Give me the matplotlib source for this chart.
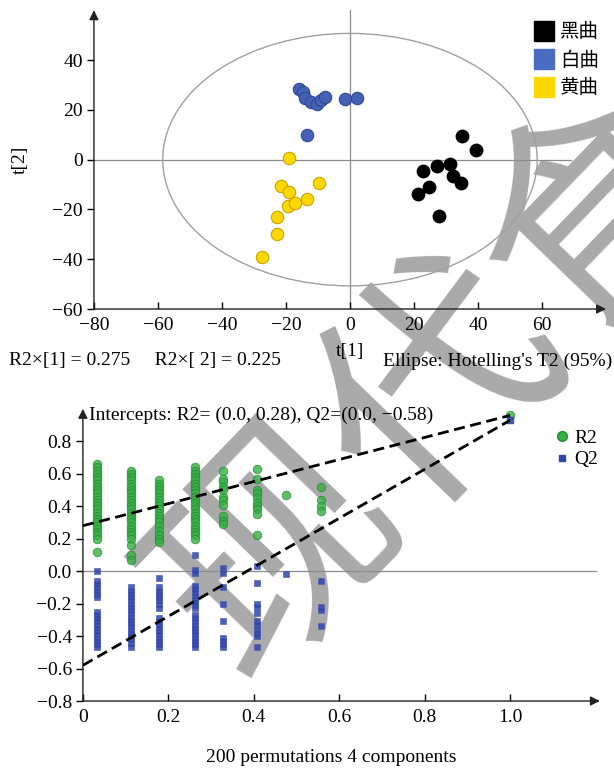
import matplotlib
matplotlib.use("Agg")
import matplotlib.pyplot as plt
from matplotlib.patches import Ellipse
from matplotlib.lines import Line2D

plt.rcParams['font.family'] = ['Liberation Serif', 'Noto Sans CJK SC', 'DejaVu Sans']
plt.rcParams['font.size'] = 14

# score plot data
groups = ["黑曲", "白曲", "黄曲"]
black_t1 = [34.9, 39.3, 27.1, 31.3, 22.7, 32.3, 34.6, 24.8, 21.4, 27.9]
black_t2 = [9.6, 3.9, -2.4, -1.6, -4.5, -6.4, -9.5, -10.9, -13.9, -22.5]
white_t1 = [-15.9, -14.8, -14.1, -12.3, -10.4, -9.2, -7.8, -1.6, 2.1, -13.3]
white_t2 = [28.5, 27.2, 24.8, 23.2, 22.3, 23.9, 25.2, 24.5, 24.9, 9.9]
yellow_t1 = [-19.2, -21.5, -19.2, -19.4, -17.1, -13.3, -22.9, -22.9, -27.6, -9.6]
yellow_t2 = [0.7, -10.4, -13.2, -18.7, -17.6, -15.7, -23.1, -29.7, -39.3, -9.5]
ellipse_t1, ellipse_t2 = 58.5, 50.7

# permutation data (one list per correlation column)
perm_x = [0.033, 0.112, 0.179, 0.262, 0.329, 0.408, 0.476, 0.558]
r2_cols = [
    [0.66, 0.64, 0.62, 0.60, 0.58, 0.56, 0.54, 0.52, 0.50, 0.48, 0.46, 0.44, 0.42,
     0.40, 0.38, 0.36, 0.34, 0.32, 0.30, 0.28, 0.26, 0.24, 0.22, 0.20, 0.12],
    [0.62, 0.60, 0.58, 0.56, 0.54, 0.52, 0.50, 0.48, 0.46, 0.44, 0.42, 0.40, 0.38,
     0.36, 0.34, 0.32, 0.30, 0.28, 0.26, 0.24, 0.22, 0.20, 0.16, 0.10, 0.07],
    [0.56, 0.54, 0.52, 0.50, 0.48, 0.46, 0.44, 0.42, 0.40, 0.38, 0.36, 0.34, 0.32,
     0.30, 0.28, 0.25, 0.22, 0.20, 0.18],
    [0.64, 0.62, 0.60, 0.58, 0.56, 0.54, 0.52, 0.50, 0.48, 0.46, 0.44, 0.42, 0.40,
     0.38, 0.36, 0.34, 0.32, 0.30, 0.28, 0.26, 0.24, 0.22, 0.20],
    [0.62, 0.57, 0.55, 0.52, 0.50, 0.46, 0.44, 0.41, 0.34, 0.31, 0.29],
    [0.63, 0.57, 0.50, 0.48, 0.45, 0.42, 0.40, 0.38, 0.35, 0.22],
    [0.47],
    [0.52, 0.44, 0.40, 0.37],
]
q2_cols = [
    [0.00, -0.06, -0.08, -0.10, -0.12, -0.14, -0.16, -0.25, -0.27, -0.29, -0.31,
     -0.33, -0.35, -0.37, -0.39, -0.41, -0.43, -0.45, -0.47],
    [-0.10, -0.12, -0.14, -0.16, -0.18, -0.20, -0.22, -0.24, -0.26, -0.28, -0.30,
     -0.32, -0.34, -0.36, -0.38, -0.40, -0.42, -0.44, -0.47],
    [-0.04, -0.10, -0.12, -0.14, -0.16, -0.18, -0.20, -0.23, -0.29, -0.31, -0.33,
     -0.35, -0.37, -0.39, -0.41, -0.43, -0.45, -0.47],
    [0.10, 0.01, -0.01, -0.09, -0.11, -0.13, -0.15, -0.17, -0.19, -0.21, -0.23,
     -0.27, -0.29, -0.31, -0.33, -0.35, -0.37, -0.39, -0.41, -0.43, -0.45, -0.47],
    [0.02, -0.01, -0.10, -0.20, -0.31, -0.41, -0.43, -0.45, -0.47],
    [0.03, -0.07, -0.20, -0.22, -0.26, -0.31, -0.33, -0.36, -0.38, -0.40, -0.47],
    [-0.02],
    [-0.06, -0.22, -0.24, -0.34],
]
orig_x = 1.0
orig_r2, orig_q2 = 0.96, 0.93
line_x = [0.0, 1.0]
r2_line = [0.28, 0.96]
q2_line = [-0.58, 0.93]

fig = plt.figure(figsize=(6.14, 7.70), dpi=100)

# watermark, drawn under both panels
fig.text(195 / 614, 1 - 638 / 770, "现代食品", rotation=46, rotation_mode="anchor",
         ha="left", va="center", fontsize=170, color="#a9a9a9",
         family=["Noto Sans CJK SC"], zorder=-1)


def arrow_axes(ax):
    ax.patch.set_alpha(0)
    for s in ax.spines.values():
        s.set_visible(False)
    ax.annotate("", xy=(1, 0), xytext=(0, 0), xycoords="axes fraction",
                arrowprops=dict(arrowstyle="-|>", lw=1.0, color="#222222",
                                mutation_scale=14, shrinkA=0, shrinkB=0))
    ax.annotate("", xy=(0, 1), xytext=(0, 0), xycoords="axes fraction",
                arrowprops=dict(arrowstyle="-|>", lw=1.0, color="#222222",
                                mutation_scale=14, shrinkA=0, shrinkB=0))
    ax.tick_params(axis="x", direction="in", length=5, width=1, pad=6)
    ax.tick_params(axis="y", direction="out", length=5, width=1, pad=3)


# ---- score plot ----
ax1 = fig.add_axes([0.153, 0.5987, 0.834, 0.388])
ax1.set_xlim(-80, 80)
ax1.set_ylim(-60, 60)
ax1.plot([-80, 69], [0, 0], color="#8c8c8c", lw=0.9, zorder=1)
ax1.plot([0, 0], [-60, 60], color="#8c8c8c", lw=0.9, zorder=1)
ax1.add_patch(Ellipse((0, 0), 2 * ellipse_t1, 2 * ellipse_t2, fill=False,
                      edgecolor="#a0a0a0", lw=1.0, zorder=1))
ax1.scatter(black_t1, black_t2, s=80, color="#000000", edgecolor="#000000", zorder=3)
ax1.scatter(white_t1, white_t2, s=80, color="#4461b4", edgecolor="#2f4a98",
            lw=0.8, zorder=3)
ax1.scatter(yellow_t1, yellow_t2, s=80, color="#ffd700", edgecolor="#c9a400",
            lw=0.8, zorder=3)
ax1.set_xticks([-80, -60, -40, -20, 0, 20, 40, 60])
ax1.set_yticks([-60, -40, -20, 0, 20, 40])
arrow_axes(ax1)
ax1.set_xlabel("t[1]", labelpad=6)
ax1.set_ylabel("t[2]", labelpad=17)
handles = [Line2D([], [], marker="s", linestyle="", markersize=14, color=c)
           for c in ["#000000", "#4a6cc0", "#ffd700"]]
ax1.legend(handles, groups, loc="upper right", bbox_to_anchor=(1.02, 1.015),
           frameon=False, handletextpad=0.3, labelspacing=0.5, fontsize=14,
           handlelength=1.0)

fig.text(0.015, 1 - 361 / 770, "R2×[1] = 0.275     R2×[ 2] = 0.225",
         va="center", ha="left", fontsize=14)
fig.text(0.997, 1 - 361 / 770, "Ellipse: Hotelling's T2 (95%)",
         va="center", ha="right", fontsize=14)

# ---- permutation plot ----
ax2 = fig.add_axes([0.135, 0.0896, 0.842, 0.3794])
ax2.set_xlim(0, 1.21)
ax2.set_ylim(-0.8, 1.0)
ax2.plot([0, 1.2], [0, 0], color="#8c8c8c", lw=0.9, zorder=1)

green = "#36b044"
blue = "#2f45a8"
for x, r2, q2 in zip(perm_x, r2_cols, q2_cols):
    ax2.scatter([x] * len(r2), r2, s=38, color=green, edgecolor="#1f8a2e",
                lw=0.6, alpha=0.8, zorder=3)
    ax2.scatter([x] * len(q2), q2, s=20, marker="s", color=blue,
                edgecolor="#4a5cb8", lw=0.5, alpha=0.85, zorder=3)
ax2.scatter([orig_x], [orig_r2], s=38, color=green, edgecolor="#1f8a2e",
            lw=0.6, alpha=0.8, zorder=4)
ax2.scatter([orig_x], [orig_q2], s=20, marker="s", color=blue, alpha=0.85, zorder=4)
ax2.plot(line_x, r2_line, color="black", lw=2, linestyle=(0, (4, 2)), zorder=5)
ax2.plot(line_x, q2_line, color="black", lw=2, linestyle=(0, (4, 2)), zorder=5)

ax2.set_xticks([0, 0.2, 0.4, 0.6, 0.8, 1.0])
ax2.set_xticklabels(["0", "0.2", "0.4", "0.6", "0.8", "1.0"])
ax2.set_yticks([-0.8, -0.6, -0.4, -0.2, 0.0, 0.2, 0.4, 0.6, 0.8])
ax2.set_yticklabels(["−0.8", "−0.6", "−0.4", "−0.2", "0.0", "0.2", "0.4", "0.6", "0.8"])
arrow_axes(ax2)
ax2.text(0.012, 1 - (415 - 409) / 292, "Intercepts: R2= (0.0, 0.28), Q2=(0.0, −0.58)",
         transform=ax2.transAxes, va="center", ha="left", fontsize=14)
lh = [Line2D([], [], marker="o", linestyle="", markersize=7, color=green,
             markeredgecolor="#1f8a2e"),
      Line2D([], [], marker="s", linestyle="", markersize=5, color=blue)]
ax2.legend(lh, ["R2", "Q2"], loc="upper right", bbox_to_anchor=(1.03, 0.99),
           frameon=False, handletextpad=0.1, labelspacing=0.2, fontsize=14,
           handlelength=1.0)
fig.text(331 / 614, 1 - 757 / 770, "200 permutations 4 components",
         ha="center", va="center", fontsize=14)

fig.savefig("out.png", dpi=100)
